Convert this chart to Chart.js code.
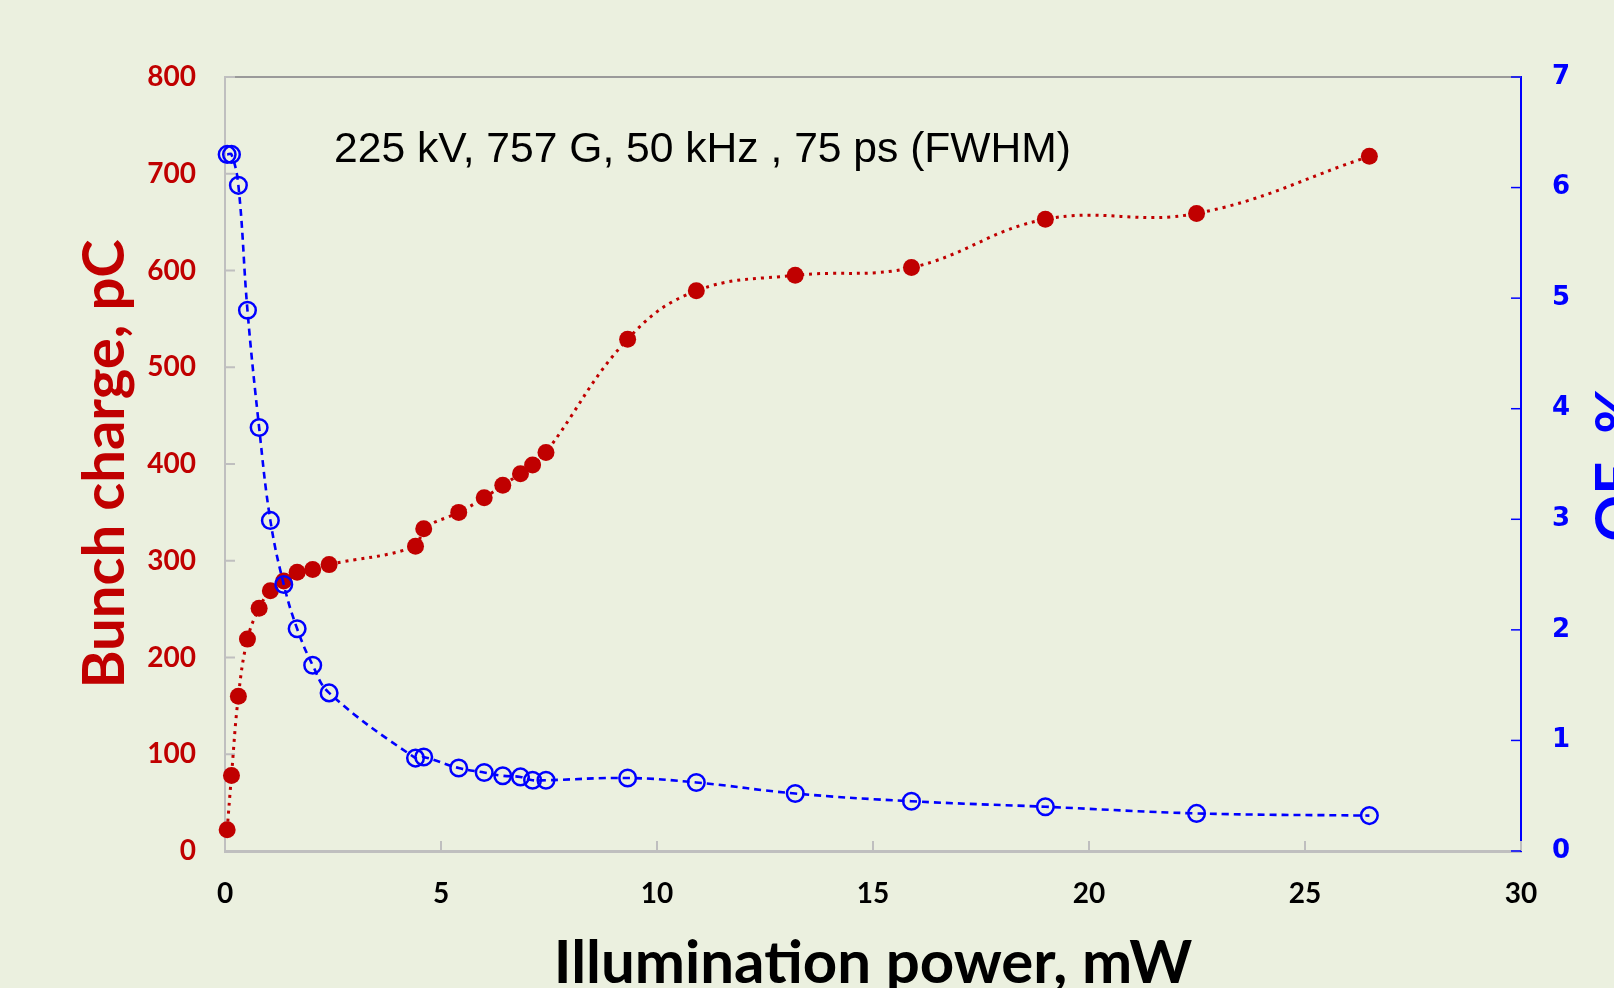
<!DOCTYPE html>
<html><head><meta charset="utf-8">
<script src="https://cdn.jsdelivr.net/npm/chart.js@4.4.1/dist/chart.umd.min.js"></script>
<style>html,body{margin:0;padding:0;background:#EBF0DF;overflow:hidden}canvas{display:block}</style>
</head><body><canvas id="c" width="1614" height="988"></canvas>
<script>
// ---- data ----
const powerMW = [0.05,0.15,0.31,0.52,0.79,1.05,1.36,1.67,2.03,2.41,4.41,4.60,5.41,6.00,6.43,6.84,7.12,7.43,9.32,10.91,13.20,15.89,18.99,22.49,26.49];
const bunchChargePC = [22,78,160,219,251,269,279,288,291,296,315,333,350,365,378,390,399,412,529,579,595,603,653,659,718];
const qePercent = [6.30,6.30,6.02,4.89,3.83,2.99,2.41,2.01,1.68,1.43,0.84,0.85,0.75,0.71,0.68,0.67,0.64,0.64,0.66,0.62,0.52,0.45,0.40,0.34,0.32];
const xTicks = [0,5,10,15,20,25,30];
const chargeTicks = [0,100,200,300,400,500,600,700,800];
const qeTicks = [0,1,2,3,4,5,6,7];
const annotationText = '225 kV, 757 G, 50 kHz , 75 ps (FWHM)';
const xTitle = 'Illumination power, mW';
const yTitle = 'Bunch charge, pC';
const y1Title = 'QE, %';

const RED = '#C00000', BLUE = '#0000FF', BG = '#EBF0DF';

const decor = {
  id: 'decor',
  beforeDraw(chart) {
    const ctx = chart.ctx;
    ctx.save(); ctx.fillStyle = BG; ctx.fillRect(0,0,chart.width,chart.height); ctx.restore();
  },
  beforeDatasetsDraw(chart) {
    const {ctx, chartArea: a, scales} = chart;
    ctx.save();
    // top frame line
    ctx.strokeStyle = '#9A9A9A'; ctx.lineWidth = 2;
    ctx.beginPath(); ctx.moveTo(a.left, a.top); ctx.lineTo(a.right, a.top); ctx.stroke();
    // inward ticks
    ctx.strokeStyle = '#BFBFBF'; ctx.lineWidth = 2;
    xTicks.forEach(v => { const px = scales.x.getPixelForValue(v);
      ctx.beginPath(); ctx.moveTo(px, a.bottom); ctx.lineTo(px, a.bottom - 10); ctx.stroke(); });
    chargeTicks.forEach(v => { const py = scales.y.getPixelForValue(v);
      ctx.beginPath(); ctx.moveTo(a.left, py); ctx.lineTo(a.left + 10, py); ctx.stroke(); });
    ctx.strokeStyle = BLUE; ctx.lineWidth = 1.5;
    qeTicks.forEach(v => { const py = scales.y1.getPixelForValue(v);
      ctx.beginPath(); ctx.moveTo(a.right, py); ctx.lineTo(a.right - 10, py); ctx.stroke(); });
    ctx.restore();
  },
  afterDraw(chart) {
    const {ctx, chartArea: a} = chart;
    const cx = (a.left + a.right) / 2, cy = (a.top + a.bottom) / 2;
    ctx.save();
    ctx.fillStyle = '#000';
    ctx.font = '42.6px "Liberation Sans", Arial, sans-serif';
    ctx.textAlign = 'left'; ctx.textBaseline = 'alphabetic';
    ctx.fillText(annotationText, a.left + 109, a.top + 85);

    ctx.font = 'bold 60px Lato, sans-serif';
    ctx.textAlign = 'center';
    ctx.fillText(xTitle, cx, chart.height - 5);

    ctx.font = 'bold 58px Lato, sans-serif';
    ctx.save();
    ctx.translate(a.left - 101, cy); ctx.rotate(-Math.PI/2);
    ctx.fillStyle = RED; ctx.textBaseline = 'alphabetic';
    ctx.fillText(yTitle, 0, 0);
    ctx.restore();

    ctx.save();
    ctx.translate(a.right + 116, cy); ctx.rotate(-Math.PI/2);
    ctx.fillStyle = BLUE; ctx.textBaseline = 'alphabetic';
    ctx.fillText(y1Title, 0, 0);
    ctx.restore();
    ctx.restore();
  }
};

new Chart(document.getElementById('c'), {
  type: 'line',
  data: {
    datasets: [
      {
        label: 'Bunch charge',
        data: powerMW.map((x, i) => ({x, y: bunchChargePC[i]})),
        yAxisID: 'y', order: 2, clip: false,
        borderColor: RED, borderWidth: 3, borderDash: [3, 5],
        tension: 0.4, fill: false,
        pointRadius: 8.5, pointBackgroundColor: RED, pointBorderColor: RED, pointBorderWidth: 0
      },
      {
        label: 'QE',
        data: powerMW.map((x, i) => ({x, y: qePercent[i]})),
        yAxisID: 'y1', order: 1, clip: false,
        borderColor: BLUE, borderWidth: 2.6, borderDash: [7, 5],
        tension: 0.4, fill: false,
        pointRadius: 8.3, pointBackgroundColor: 'rgba(0,0,0,0)', pointBorderColor: BLUE, pointBorderWidth: 2.5
      }
    ]
  },
  options: {
    responsive: false, animation: false, devicePixelRatio: 1,
    layout: { padding: { top: 77, left: 0, right: 0, bottom: 0 } },
    plugins: { legend: { display: false }, tooltip: { enabled: false }, title: { display: false } },
    scales: {
      x: {
        type: 'linear', position: 'bottom', min: 0, max: 30,
        afterFit: s => { s.height = 137; },
        afterBuildTicks: s => { s.ticks = xTicks.map(v => ({value: v})); },
        ticks: { color: '#000', font: { family: 'Lato', weight: 'bold', size: 28 }, padding: 26, maxRotation: 0, autoSkip: false },
        grid: { display: false, drawTicks: false },
        border: { display: true, color: '#BFBFBF', width: 3 }
      },
      y: {
        type: 'linear', position: 'left', min: 0, max: 800,
        afterFit: s => { s.width = 225; },
        afterBuildTicks: s => { s.ticks = chargeTicks.map(v => ({value: v})); },
        ticks: { color: RED, font: { family: 'Lato', weight: 'bold', size: 28 }, padding: 29, autoSkip: false },
        grid: { display: false, drawTicks: false },
        border: { display: true, color: '#BFBFBF', width: 2 }
      },
      y1: {
        type: 'linear', position: 'right', min: 0, max: 7,
        afterFit: s => { s.width = 93; },
        afterBuildTicks: s => { s.ticks = qeTicks.map(v => ({value: v})); },
        ticks: { color: BLUE, font: { family: 'DejaVu Sans', weight: 'bold', size: 26 }, padding: 31, autoSkip: false },
        grid: { display: false, drawTicks: false },
        border: { display: true, color: BLUE, width: 2 }
      }
    }
  },
  plugins: [decor]
});
</script>
</body></html>
